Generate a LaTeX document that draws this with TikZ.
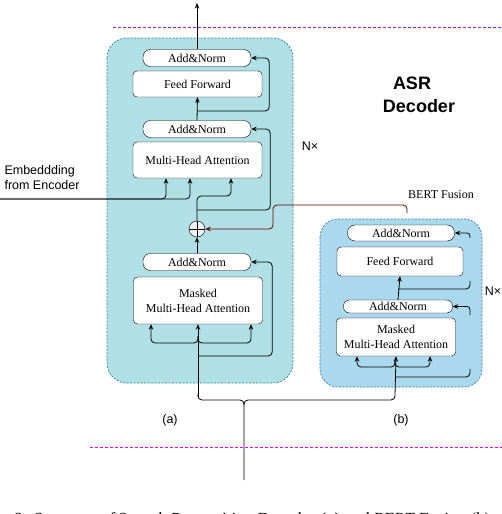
\documentclass[tikz,border=0pt]{standalone}
\usepackage{fontspec}
\setmainfont{Liberation Serif}
\setsansfont{Liberation Sans}
\usepackage{tikz}
\usetikzlibrary{arrows.meta}

\definecolor{boxa}{RGB}{176,224,230}
\definecolor{boxb}{RGB}{170,216,236}
\definecolor{edgea}{RGB}{40,130,150}
\definecolor{edgeb}{RGB}{60,120,170}
\definecolor{fusionred}{RGB}{100,0,0}
\definecolor{topline}{RGB}{160,30,190}
\definecolor{botline}{RGB}{240,0,240}

\begin{document}
\begin{tikzpicture}[x=1pt,y=1pt,yscale=-1,xscale=1,
  lbl/.style={font=\fontsize{12}{15}\selectfont},
  addnorm/.style={draw,fill=white,rounded corners=7.5pt,inner sep=0pt,minimum width=108pt,minimum height=17pt,lbl},
  block/.style={draw,fill=white,rounded corners=4pt,inner sep=0pt,minimum width=129pt,align=center,lbl},
  arr/.style={line width=0.8pt,-{Stealth[length=5.5pt,width=4.5pt]}},
  wire/.style={line width=0.8pt},
  side/.style={font=\sffamily\fontsize{12.5}{15}\selectfont}]
\useasboundingbox (0,0) rectangle (502,514);
\clip (0,0) rectangle (502,514);

%dashed separators
\draw[topline,line width=1pt,dash pattern=on 3pt off 2pt] (113,27) -- (502,27);
\draw[botline,line width=1pt,dash pattern=on 3pt off 2pt] (90,447) -- (502,447);

%backgrounds of the two stacks
\draw[edgea,fill=boxa,line width=0.7pt,dash pattern=on 2pt off 1.5pt,rounded corners=20pt] (107,38) rectangle (293,383);
\draw[edgeb,fill=boxb,line width=0.7pt,dash pattern=on 2pt off 1.5pt,rounded corners=18pt] (320,219) rectangle (482,387);

% Text Nodes
\node[side,font=\sffamily\bfseries\fontsize{18}{21}\selectfont] (asr) at (412,83) {ASR};
\node[side,font=\sffamily\bfseries\fontsize{18}{21}\selectfont] (dec) at (419,106) {Decoder};
\node[side,anchor=west,align=left] (emblbl) at (1,178) {Embeddding\\from Encoder};
\node[side] (nxa) at (310,146) {N×};
\node[side] (nxb) at (493,291) {N×};
\node[side] (lbla) at (170,420) {(a)};
\node[side] (lblb) at (401,420) {(b)};
\node[lbl] (bertlbl) at (441,195) {BERT Fusion};

%(a) decoder stack
\node[addnorm] (an1) at (197,58) {Add\&Norm};
\node[block,minimum height=26pt] (ff) at (197.5,84) {Feed Forward};
\node[addnorm] (an2) at (197,129) {Add\&Norm};
\node[block,minimum height=36pt] (mha) at (197.5,160) {Multi-Head Attention};
\node[draw,circle,fill=gray!10,minimum size=16pt,inner sep=0pt] (sum) at (197,229) {};
\draw (sum.north) -- (sum.south) (sum.west) -- (sum.east);
\node[addnorm] (an3) at (197,262) {Add\&Norm};
\node[block,minimum height=47pt] (mmha) at (198,300.5) {Masked\\Multi-Head Attention};

%(b) BERT stack
\node[addnorm,minimum width=107pt,minimum height=16pt] (bn1) at (401,233) {Add\&Norm};
\node[block,minimum width=126pt,minimum height=29pt] (bff) at (400,261.5) {Feed Forward};
\node[addnorm,minimum width=109pt,minimum height=13pt,rounded corners=6pt] (bn2) at (398,306.5) {Add\&Norm};
\node[block,minimum width=119pt,minimum height=38pt] (bmmha) at (396,337) {Masked\\Multi-Head Attention};

\coordinate (out) at (197,3);
\coordinate (emb) at (0,199);
\coordinate (ina) at (198,397);
\coordinate (inb) at (395,395);
\coordinate (src) at (244,480);
\coordinate (fuse) at (407,213);

%(a) connectors
\draw[arr] (an1.north) -- (out);
\draw[arr] (an2.north) -- (ff.south);
\draw[arr,rounded corners=4pt] (197,111) -| ([xshift=18pt]an1.east) -- (an1.east);
\draw[arr,rounded corners=4pt] (emb) -| ([xshift=-31.5pt]mha.south);
\draw[arr,rounded corners=4pt] (emb) -| ([xshift=-7.5pt]mha.south);
\draw[arr,rounded corners=4pt] (sum.north) |- (220,196) -| ([xshift=33.5pt]mha.south);
\draw[arr,rounded corners=4pt] (197,210) -| ([xshift=19pt]an2.east) -- (an2.east);
\draw[arr] (an3.north) -- (sum.south);
\draw[arr,fusionred,rounded corners=4pt] (fuse) |- (273,205) |- (sum.east);
\draw[arr] (ina) -- (mmha.south);
\draw[arr,rounded corners=4pt] (198,336) |- (175,343) -| ([xshift=-47pt]mmha.south);
\draw[arr,rounded corners=4pt] (198,336) |- (225,343) -| ([xshift=53pt]mmha.south);
\draw[arr,rounded corners=4pt] (198,356) -| ([xshift=21pt]an3.east) -- (an3.east);

%(b) connectors
\draw[arr] (inb) -- (bmmha.south);
\draw[arr,rounded corners=4pt] (395,361) |- (375,367) -| ([xshift=-39pt]bmmha.south);
\draw[arr,rounded corners=4pt] (395,361) |- (415,367) -| ([xshift=34pt]bmmha.south);
\draw[arr] (bn2.north) -- (bff.south);
\draw[wire,rounded corners=4pt] (395,377) -| (470,369);
\draw[arr,rounded corners=3pt] (470,315) |- (bn2.east);
\draw[wire,rounded corners=4pt] (398,289) -| (470,281);
\draw[arr,rounded corners=3pt] (470,238) |- (bn1.east);

%joining brace and input
\draw[wire,rounded corners=4pt] (ina) |- (244,400) -- (src);
\draw[wire,rounded corners=4pt] (inb) |- (244,400) -- (244,405);

% Caption (cut off by the page edge)
\node[anchor=base west,font=\itshape\fontsize{17}{19}\selectfont] (cap) at (10,524) {2: Structure of Speech Recognition Decoder (a) and BERT Fusion (b)};

\end{tikzpicture}
\end{document}
